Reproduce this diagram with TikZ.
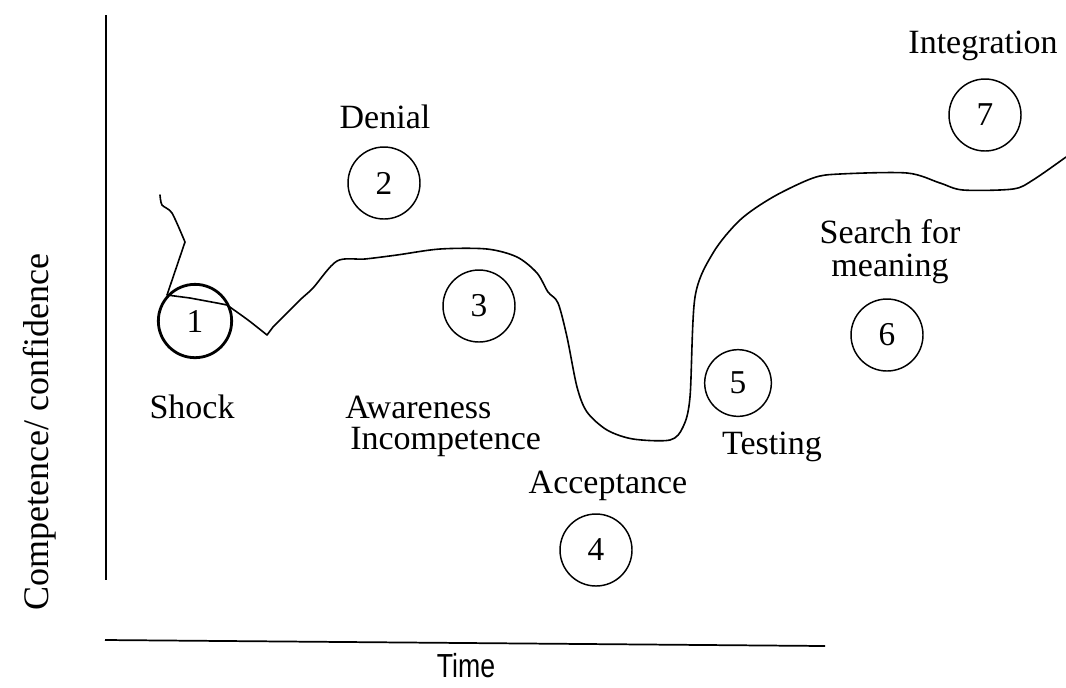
\documentclass[tikz,border=0pt]{standalone}
\usepackage{fontspec}
\setmainfont{Liberation Serif}
\newfontfamily\axisfont{Liberation Sans}
\begin{document}
\begin{tikzpicture}[x=0.75pt,y=-0.75pt,
  stage/.style={circle,draw,line width=1.1pt,minimum size=54pt,inner sep=0pt,font=\fontsize{25}{28}\selectfont},
  lbl/.style={font=\fontsize{25.5}{30}\selectfont,inner sep=0pt,align=center},
  axis/.style={line width=1.3pt},
  curve/.style={line width=1.2pt,line join=round,line cap=round}]
\useasboundingbox (0,0) rectangle (1066,687);

% axes
\coordinate (ytop) at (106,15);
\coordinate (ybot) at (106,580);
\coordinate (xl) at (105,640);
\coordinate (xr) at (825,646);
\draw[axis] (ytop) -- (ybot);
\draw[axis] (xl) -- (xr);
\node[font=\axisfont\fontsize{25}{28}\selectfont,xscale=0.8,inner sep=0pt] (time) at (466,666) {Time};
\node[rotate=90,lbl,font=\fontsize{27}{30}\selectfont] (ylab) at (40,432) {Competence/ confidence};

% stages
\node[stage,line width=2.1pt,minimum size=55pt] (s1) at (195,321) {1};
\node[stage] (s2) at (384,183) {2};
\node[stage] (s3) at (479,306) {3};
\node[stage] (s4) at (596,550) {4};
\node[stage,minimum size=50pt] (s5) at (738,383) {5};
\node[stage] (s6) at (887,335) {6};
\node[stage] (s7) at (985,115) {7};

% stage names
\node[lbl] (shock) at (192,407) {Shock};
\node[lbl] (denial) at (385,117) {Denial};
\node[lbl,anchor=west] (aware) at (345,407) {Awareness};
\node[lbl,anchor=west] (incomp) at (350,442) {Incompetence};
\node[lbl] (accept) at (608,486) {Acceptance};
\node[lbl] (test) at (772,447) {Testing};
\node[lbl] (search) at (890,232) {Search for};
\node[lbl] (meaning) at (890,269) {meaning};
\node[lbl] (integ) at (983,46) {Integration};

% change curve
\draw[curve] plot[smooth,tension=0.45] coordinates {(160,195) (162,205) (172,213) (185,242)}
  -- (167,295)
  -- (190,298) -- (217,303) -- (227,305)
  plot[smooth,tension=0.45] coordinates {(227,305) (248,320) (267,335)}
  -- (273,327)
  plot[smooth,tension=0.5] coordinates {(273,327) (300,300) (313,288) (337,261) (365,259) (397,255) (440,249) (487,249) (517,257) (537,273) (548,292) (558,303) (567,337) (577,387) (587,412) (607,430) (633,439) (670,440) (683,427) (690,397) (695,297) (713,253) (740,220) (773,197) (813,178) (840,174) (907,173) (940,183) (963,190) (1013,189) (1033,180) (1066,157)};
\end{tikzpicture}
\end{document}
